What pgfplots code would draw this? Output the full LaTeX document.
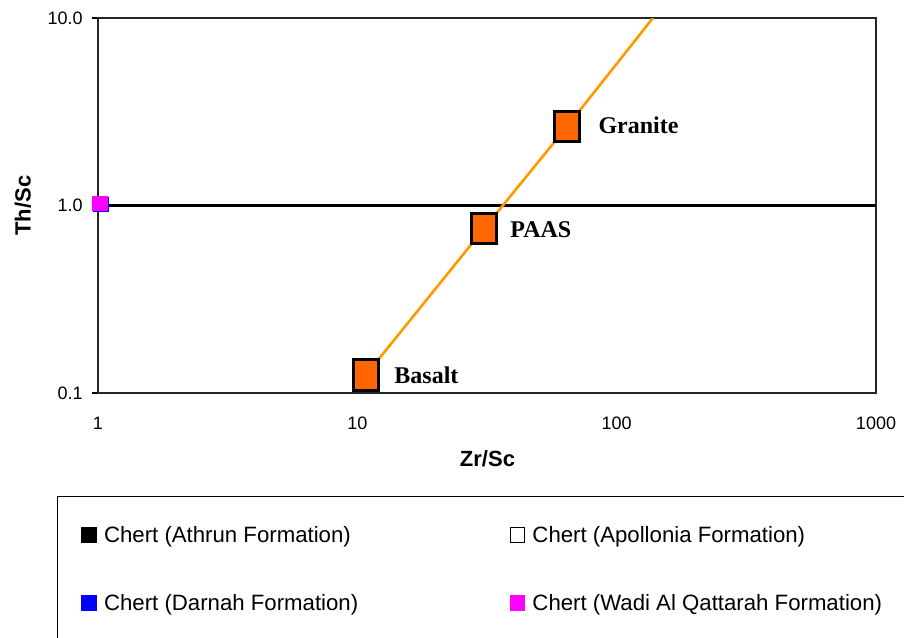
\documentclass[border=0pt]{standalone}
\usepackage{fontspec}
\setmainfont{Liberation Sans}
\newfontfamily\timesfont{Liberation Serif}
\usepackage{pgfplots}
\pgfplotsset{compat=1.18}

\definecolor{trendline}{HTML}{FF9900}
\definecolor{refmark}{HTML}{FF6600}
\definecolor{wadi}{HTML}{FF00FF}

\begin{document}
\begin{tikzpicture}
\begin{axis}[
  at={(49pt,122pt)}, anchor=south west,
  scale only axis, width=389pt, height=187.5pt,
  xmode=log, ymode=log,
  xmin=1, xmax=1000, ymin=0.1, ymax=10,
  xtick={1,10,100,1000}, xticklabels={1,10,100,1000},
  ytick={0.1,1,10}, yticklabels={0.1,1.0,10.0},
  xminorticks=false, yminorticks=false,
  xtick pos=bottom, ytick pos=left,
  tick align=outside, major tick length=3pt,
  xtick style={draw=none},
  ytick style={black, line width=0.7pt},
  axis line style={black!85, line width=0.7pt},
  ticklabel style={font=\fontsize{9}{11}\selectfont},
  xticklabel style={inner sep=0pt, anchor=north, yshift=-9pt},
  yticklabel style={inner sep=0pt, anchor=east, xshift=-4.5pt},
  label style={font=\bfseries\fontsize{11}{13}\selectfont},
  xlabel={Zr/Sc}, ylabel={Th/Sc},
  xlabel style={at={(axis description cs:0.5006,-0.176)}, anchor=center},
  ylabel style={at={(axis description cs:-0.0964,0.5)}, anchor=center, rotate=0},
  clip mode=individual,
  legend columns=2,
  legend cell align=left,
  legend image code/.code={\draw[#1] plot coordinates {(0pt,0pt)};},
  legend style={
    at={(axis description cs:-0.0527,-0.2747)}, anchor=north west,
    draw=black, line width=0.7pt,
    inner xsep=12pt, inner ysep=12.5pt,
    row sep=21pt,
    font=\fontsize{11.1}{13}\selectfont,
    nodes={inner sep=0pt, text height=10.5pt, text depth=2.5pt},
    /tikz/every odd column/.append style={column sep=4pt},
  },
]
% reference line Th/Sc = 1
\addplot[black, line width=1.5pt, forget plot] coordinates {(1,1) (1000,1)};

% chert samples
\addplot[only marks, mark=square*, mark size=3.6pt, black, line width=0.4pt]
  coordinates {(1.018,1.025)};
\addlegendentry{\makebox[203pt][l]{Chert (Athrun Formation)}}
\addplot[only marks, mark=square*, mark size=3.6pt, black, line width=0.4pt, mark options={fill=white}]
  coordinates {(1.018,1.025)};
\addlegendentry{\makebox[203pt][l]{Chert (Apollonia Formation)}}
\addplot[only marks, mark=square*, mark size=3.6pt, blue, line width=0.4pt]
  coordinates {(1.027,1.012)};
\addlegendentry{\makebox[203pt][l]{Chert (Darnah Formation)}}
\addplot[only marks, mark=square*, mark size=3.6pt, wadi, line width=0.4pt]
  coordinates {(1.018,1.025)};
\addlegendentry{\makebox[203pt][l]{Chert (Wadi Al Qattarah Formation)}}

% upper continental crust trend: basalt - PAAS - granite
\addplot[trendline, line width=1.3pt, forget plot]
  coordinates {(10.8,0.125) (30.8,0.753) (64.4,2.64) (138,10)};
\addplot[only marks, mark=square*, mark size=7.6pt, forget plot,
  mark options={fill=refmark, draw=black, line width=1.5pt, xscale=0.8}]
  coordinates {(10.8,0.125) (30.8,0.753) (64.4,2.64)};

\begin{scope}[every node/.style={anchor=base west, inner sep=0pt, font=\timesfont\bfseries\fontsize{12}{14}\selectfont}]
\node at (axis cs:84.8,2.42) {Granite};
\node at (axis cs:38.8,0.672) {PAAS};
\node at (axis cs:13.85,0.113) {Basalt};
\end{scope}
\end{axis}
\pgfresetboundingbox
\useasboundingbox (0,0) rectangle (452pt,318.5pt);
\end{tikzpicture}
\end{document}
